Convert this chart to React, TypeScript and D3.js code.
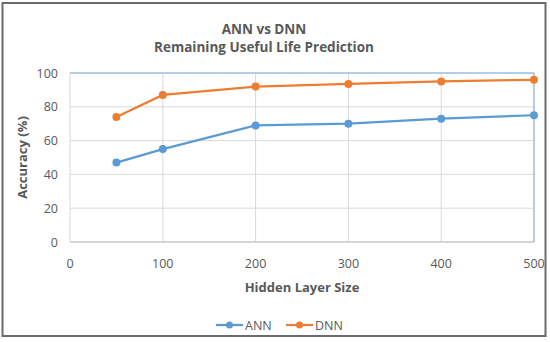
import React from "react";
import * as d3 from "d3";

const hiddenSizes = [50, 100, 200, 300, 400, 500];
const annAccuracy = [47, 55, 69, 70, 73, 75];
const dnnAccuracy = [74, 87, 92, 93.5, 95, 96];
const xTicks = [0, 100, 200, 300, 400, 500];
const yTicks = [0, 20, 40, 60, 80, 100];
const titleLines = ["ANN vs DNN", "Remaining Useful Life Prediction"];

const W = 550, H = 342;
const left = 70, right = 534, top = 73, bottom = 242;
const FONT = "'Open Sans', 'Noto Sans', sans-serif";
const TXT = "#595959";

export default function App() {
  const x = d3.scaleLinear().domain([0, 500]).range([left, right]);
  const y = d3.scaleLinear().domain([0, 100]).range([bottom, top]);
  const series = [
    { name: "ANN", values: annAccuracy, color: "#5B9BD5" },
    { name: "DNN", values: dnnAccuracy, color: "#ED7D31" },
  ];
  const line = d3
    .line<number>()
    .x((_, i) => x(hiddenSizes[i]))
    .y((d) => y(d));

  return (
    <svg width={W} height={H} style={{ position: "absolute", left: 0, top: 0, background: "#fff" }}>
      <rect x={0} y={0} width={W} height={H} fill="#fff" />
      <rect x={2.5} y={3} width={543} height={333} fill="none" stroke="#6b6b6b" strokeWidth={2} />
      {titleLines.map((t, i) => (
        <text key={t} x={264} y={33.5 + i * 18} textAnchor="middle" fontFamily={FONT} fontWeight="bold" fontSize={13.5} fill={TXT}>
          {t}
        </text>
      ))}
      {yTicks.map((t) => (
        <line key={"gy" + t} x1={left} x2={right} y1={y(t)} y2={y(t)} stroke="#D9D9D9" strokeWidth={1} />
      ))}
      {xTicks.map((t) => (
        <line key={"gx" + t} x1={x(t)} x2={x(t)} y1={top} y2={bottom} stroke="#D9D9D9" strokeWidth={1} />
      ))}
      <line x1={left} x2={right} y1={bottom} y2={bottom} stroke="#BFBFBF" strokeWidth={1} />
      <line x1={left} x2={right} y1={top} y2={top} stroke="#7FAEDD" strokeWidth={1} />
      <line x1={right} x2={right} y1={top} y2={bottom} stroke="#7FAEDD" strokeWidth={1} />
      {yTicks.map((t) => (
        <text key={"ty" + t} x={58} y={y(t) + 4.5} textAnchor="end" fontFamily={FONT} fontSize={12.5} fill={TXT}>
          {t}
        </text>
      ))}
      {xTicks.map((t) => (
        <text key={"tx" + t} x={x(t)} y={268} textAnchor="middle" fontFamily={FONT} fontSize={12.5} fill={TXT}>
          {t}
        </text>
      ))}
      <text x={(left + right) / 2} y={292} textAnchor="middle" fontFamily={FONT} fontWeight="bold" fontSize={13} fill={TXT}>
        Hidden Layer Size
      </text>
      <text
        transform={`translate(27,${(top + bottom) / 2}) rotate(-90)`}
        textAnchor="middle"
        fontFamily={FONT}
        fontWeight="bold"
        fontSize={13}
        fill={TXT}
      >
        Accuracy (%)
      </text>
      {series.map((s) => (
        <g key={s.name}>
          <path d={line(s.values) || ""} fill="none" stroke={s.color} strokeWidth={2.25} />
          {s.values.map((v, i) => (
            <circle key={i} cx={x(hiddenSizes[i])} cy={y(v)} r={4} fill={s.color} />
          ))}
        </g>
      ))}
      {series.map((s, i) => {
        const lx = 216 + i * 70;
        return (
          <g key={"lg" + s.name}>
            <line x1={lx} x2={lx + 27} y1={325} y2={325} stroke={s.color} strokeWidth={2.25} />
            <circle cx={lx + 13.5} cy={325} r={3.5} fill={s.color} />
            <text x={lx + 29} y={329.5} fontFamily={FONT} fontSize={12.5} fill={TXT}>
              {s.name}
            </text>
          </g>
        );
      })}
    </svg>
  );
}
